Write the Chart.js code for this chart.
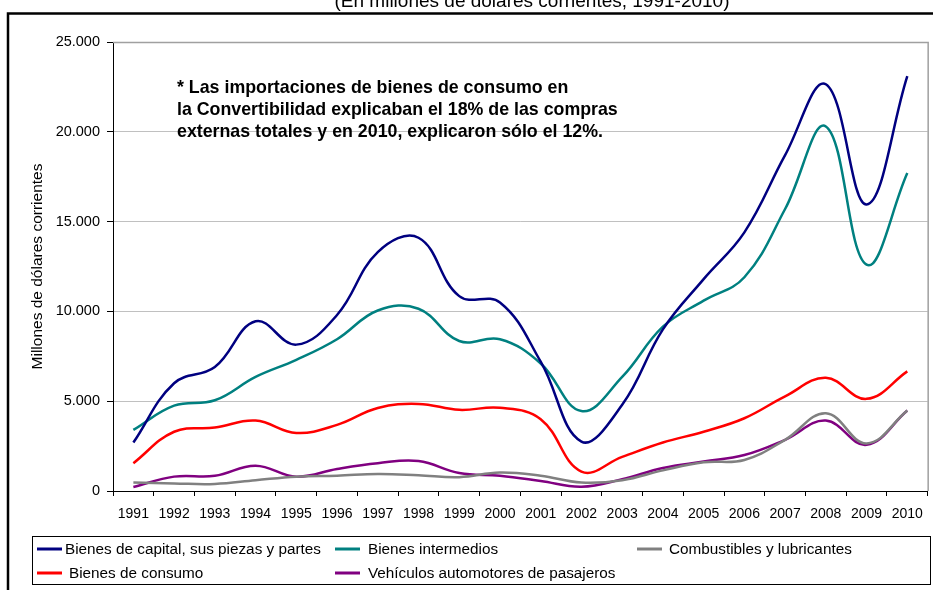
<!DOCTYPE html>
<html>
<head>
<meta charset="utf-8">
<script src="https://cdn.jsdelivr.net/npm/chart.js@4.4.1/dist/chart.umd.min.js"></script>
<style>
  html, body { margin: 0; padding: 0; background: #fff; }
  canvas { display: block; }
</style>
</head>
<body>
<canvas id="chart" width="933" height="590"></canvas>
<script>
// data (millones de USD corrientes)
const years = ['1991','1992','1993','1994','1995','1996','1997','1998','1999','2000',
               '2001','2002','2003','2004','2005','2006','2007','2008','2009','2010']
const capital      = [2700, 6000, 6900, 9450, 8150, 9800, 13300, 14100, 10850, 10500, 7200, 2750, 4800, 9000, 11800, 14400, 18700, 22650, 15950, 23100]
const intermedios  = [3400, 4750, 5050, 6350, 7300, 8450, 10050, 10150, 8350, 8450, 7100, 4450, 6350, 9150, 10600, 11900, 15700, 20300, 12600, 17700]
const combustibles = [470, 420, 390, 600, 800, 850, 950, 880, 770, 1030, 850, 470, 600, 1150, 1600, 1730, 2850, 4330, 2650, 4480]
const consumo      = [1550, 3300, 3530, 3920, 3230, 3680, 4620, 4850, 4520, 4630, 4000, 1080, 1900, 2700, 3300, 4050, 5270, 6300, 5130, 6660]
const vehiculos    = [220, 800, 850, 1410, 800, 1230, 1550, 1670, 1000, 850, 560, 240, 660, 1280, 1640, 2000, 2850, 3920, 2570, 4480]

const seriesNames = ['Bienes de capital, sus piezas y partes', 'Bienes intermedios',
                     'Combustibles y lubricantes', 'Bienes de consumo',
                     'Vehículos automotores de pasajeros']
const yTicks = [0, 5000, 10000, 15000, 20000, 25000]

const titleText = '(En millones de dólares corrientes, 1991-2010)'
const noteLines = ['* Las importaciones de bienes de consumo en',
                   'la Convertibilidad explicaban el 18% de las compras',
                   'externas totales y en 2010, explicaron sólo el 12%.']

const FONT = '"Liberation Sans", Arial, sans-serif'
const colors = ['#000080', '#008080', '#808080', '#FF0000', '#800080']

function fmt(v){
    return String(v).replace(/\B(?=(\d{3})+(?!\d))/g, '.')
}

function line(label, data, color){
    return {
        label, data,
        borderColor: color,
        backgroundColor: color,
        borderWidth: 2.5,
        pointRadius: 0,
        tension: 0.4,
        fill: false
    }
}

// legend slots: [x of line start, row y]
const legendSlots = [[37, 549], [335, 549], [637, 549], [37, 573], [335, 573]]
const legendTextGap = [28, 33, 32, 32, 33]

const extras = {
    id: 'extras',
    beforeDraw(chart){
        const c = chart.ctx
        c.save()
        c.fillStyle = '#fff'
        c.fillRect(0, 0, chart.width, chart.height)
        c.restore()
    },
    beforeDatasetsDraw(chart){
        const c = chart.ctx, a = chart.chartArea
        c.save()
        c.strokeStyle = '#a0a0a0'
        c.lineWidth = 1.5
        c.beginPath()
        c.moveTo(a.left, a.top + 0.5)
        c.lineTo(a.right + 0.5, a.top + 0.5)
        c.lineTo(a.right + 0.5, a.bottom)
        c.stroke()
        c.restore()
    },
    afterDraw(chart){
        const c = chart.ctx
        c.save()
        // outer frame
        c.strokeStyle = '#000'
        c.lineWidth = 2.5
        c.beginPath()
        c.moveTo(8, 600)
        c.lineTo(8, 13.5)
        c.lineTo(940, 13.5)
        c.stroke()

        // cut-off title
        c.fillStyle = '#000'
        c.font = '19px ' + FONT
        c.textAlign = 'center'
        c.textBaseline = 'alphabetic'
        c.fillText(titleText, 532, 7)

        // note
        c.font = 'bold 17.8px ' + FONT
        c.textAlign = 'left'
        noteLines.forEach((t, i) => c.fillText(t, 177, 93 + i * 22))

        // legend
        c.strokeStyle = '#000'
        c.lineWidth = 1
        c.strokeRect(32.5, 536.5, 898, 48)
        c.font = '15.3px ' + FONT
        c.textBaseline = 'middle'
        chart.data.datasets.forEach((ds, i) => {
            const [x, y] = legendSlots[i]
            c.strokeStyle = ds.borderColor
            c.lineWidth = 3
            c.beginPath()
            c.moveTo(x, y)
            c.lineTo(x + 25, y)
            c.stroke()
            c.fillStyle = '#000'
            c.fillText(ds.label, x + legendTextGap[i], y + 1)
        })
        c.restore()
    }
}

new Chart(document.getElementById('chart'), {
    type: 'line',
    data: {
        labels: years,
        datasets: [
            line(seriesNames[0], capital, colors[0]),
            line(seriesNames[1], intermedios, colors[1]),
            line(seriesNames[2], combustibles, colors[2]),
            line(seriesNames[3], consumo, colors[3]),
            line(seriesNames[4], vehiculos, colors[4])
        ]
    },
    options: {
        responsive: false,
        animation: false,
        devicePixelRatio: 1,
        layout: { padding: { left: 0, top: 42, right: 5, bottom: 0 } },
        plugins: {
            legend: { display: false },
            tooltip: { enabled: false }
        },
        scales: {
            x: {
                offset: true,
                afterFit(scale){ scale.height = 99 },
                border: { color: '#000', width: 1 },
                grid: {
                    offset: true,
                    drawOnChartArea: false,
                    drawTicks: true,
                    tickLength: 5,
                    tickColor: '#000'
                },
                ticks: {
                    color: '#000',
                    font: { family: FONT, size: 14 },
                    maxRotation: 0,
                    autoSkip: false,
                    padding: 10
                }
            },
            y: {
                min: 0,
                max: 25000,
                afterFit(scale){ scale.width = 113 },
                afterBuildTicks(scale){ scale.ticks = yTicks.map(v => ({ value: v })) },
                border: { color: '#000', width: 1 },
                grid: {
                    color: ctx => (ctx.tick && ctx.tick.value > 0 && ctx.tick.value < 25000) ? '#c0c0c0' : 'rgba(0,0,0,0)',
                    borderDash: [10, 6],
                    tickColor: '#000',
                    tickBorderDash: [],
                    tickLength: 6,
                    lineWidth: 1
                },
                ticks: {
                    color: '#000',
                    font: { family: FONT, size: 14.5 },
                    padding: 7,
                    callback: v => fmt(v)
                },
                title: {
                    display: true,
                    text: 'Millones de dólares corrientes',
                    color: '#000',
                    font: { family: FONT, size: 15.5 },
                    padding: { top: 28, bottom: 0 }
                }
            }
        }
    },
    plugins: [extras]
})
</script>
</body>
</html>
